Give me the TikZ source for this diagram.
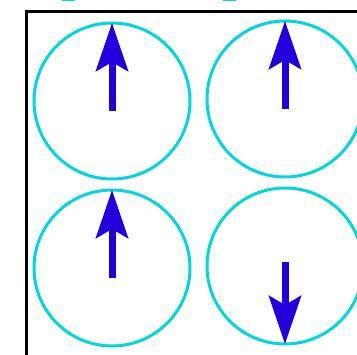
\documentclass[tikz,border=0pt]{standalone}
\usetikzlibrary{arrows.meta, calc}
\definecolor{cian}{HTML}{00D8DC}
\definecolor{azulspin}{HTML}{2200DD}

\begin{document}
\begin{tikzpicture}[
  x=1pt, y=-1pt,
  site/.style={circle, draw=cian, line width=3pt, minimum size=156pt, inner sep=0pt, outer sep=0pt},
  spin/.style={-{Stealth[length=48pt, width=32pt, inset=9pt]}, line width=7pt, azulspin},
  marco/.style={draw=black, line width=3pt},
]
\useasboundingbox (0,0) rectangle (357,355);
\clip (0,0) rectangle (357,355);

% --- restos de la fila superior ---
\draw[cian, line width=3pt] (62,0) -- (75,0);
\draw[cian, line width=3pt] (223,0) -- (236,0);

% --- marco ---
\draw[marco] (26,12) rectangle (420,420);

% --- sitios ---
\node[site] (s11) at (112,101) {};
\node[site] (s12) at (285,99)  {};
\node[site] (s21) at (112,268) {};
\node[site] (s22) at (285,266) {};

% --- espines ---
\draw[spin] ($(s11.center)+(0,10)$) -- (s11.north);
\draw[spin] ($(s12.center)+(0,10)$) -- (s12.north);
\draw[spin] ($(s21.center)+(0,10)$) -- (s21.north);
\draw[spin] ($(s22.center)+(0,-4)$) -- (s22.south);

\end{tikzpicture}
\end{document}
